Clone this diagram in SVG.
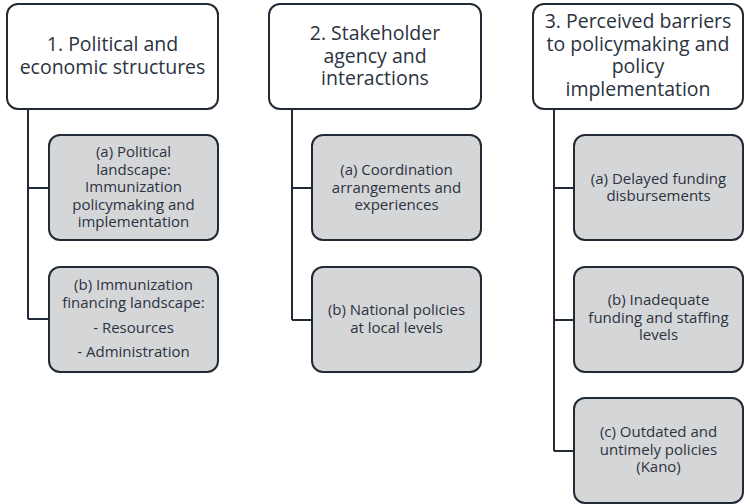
<svg xmlns="http://www.w3.org/2000/svg" width="750" height="504" viewBox="0 0 750 504">
<style>
.hdr{fill:#ffffff;stroke:#222a35;stroke-width:2}
.sub{fill:#d5d6d8;stroke:#222a35;stroke-width:2}
.conn{fill:none;stroke:#222a35;stroke-width:2}
text{font-family:"Open Sans","Noto Sans",sans-serif;fill:#2b3340;text-anchor:middle}
.ht{font-size:19.5px}
.st{font-size:15px}
</style>
<rect width="750" height="504" fill="#ffffff"/>
<g id="connectors">
<path class="conn" d="M28,109 V319 M28,188 H49 M28,319 H49"/>
<path class="conn" d="M292,109 V320 M292,188 H312 M292,320 H312"/>
<path class="conn" d="M554,109 V451 M554,188 H574 M554,320 H574 M554,451 H574"/>
</g>
<g id="n1">
<rect class="hdr" x="7" y="4" width="211" height="105" rx="11"/>
<text class="ht" x="112.5" y="51">1. Political and</text>
<text class="ht" x="112.5" y="74">economic structures</text>
</g>
<g id="n1a">
<rect class="sub" x="49" y="135" width="169" height="105" rx="11"/>
<text class="st" x="133.5" y="157">(a) Political</text>
<text class="st" x="133.5" y="174.5">landscape:</text>
<text class="st" x="133.5" y="192">Immunization</text>
<text class="st" x="133.5" y="209.5">policymaking and</text>
<text class="st" x="133.5" y="227">implementation</text>
</g>
<g id="n1b">
<rect class="sub" x="49" y="267" width="169" height="105" rx="11"/>
<text class="st" x="133.5" y="290">(b) Immunization</text>
<text class="st" x="133.5" y="308">financing landscape:</text>
<text class="st" x="133.5" y="333">- Resources</text>
<text class="st" x="133.5" y="357">- Administration</text>
</g>
<g id="n2">
<rect class="hdr" x="269" y="4" width="212" height="105" rx="11"/>
<text class="ht" x="375" y="40">2. Stakeholder</text>
<text class="ht" x="375" y="62.5">agency and</text>
<text class="ht" x="375" y="85">interactions</text>
</g>
<g id="n2a">
<rect class="sub" x="312" y="135" width="169" height="105" rx="11"/>
<text class="st" x="396.5" y="175">(a) Coordination</text>
<text class="st" x="396.5" y="192.5">arrangements and</text>
<text class="st" x="396.5" y="210">experiences</text>
</g>
<g id="n2b">
<rect class="sub" x="312" y="267" width="169" height="105" rx="11"/>
<text class="st" x="396.5" y="315">(b) National policies</text>
<text class="st" x="396.5" y="332.5">at local levels</text>
</g>
<g id="n3">
<rect class="hdr" x="533" y="4" width="210" height="105" rx="11"/>
<text class="ht" x="638" y="28">3. Perceived barriers</text>
<text class="ht" x="638" y="50.5">to policymaking and</text>
<text class="ht" x="638" y="73">policy</text>
<text class="ht" x="638" y="95.5">implementation</text>
</g>
<g id="n3a">
<rect class="sub" x="574" y="135" width="169" height="105" rx="11"/>
<text class="st" x="658.5" y="184">(a) Delayed funding</text>
<text class="st" x="658.5" y="201">disbursements</text>
</g>
<g id="n3b">
<rect class="sub" x="574" y="267" width="169" height="105" rx="11"/>
<text class="st" x="658.5" y="305">(b) Inadequate</text>
<text class="st" x="658.5" y="322.5">funding and staffing</text>
<text class="st" x="658.5" y="340">levels</text>
</g>
<g id="n3c">
<rect class="sub" x="574" y="398" width="169" height="105" rx="11"/>
<text class="st" x="658.5" y="437">(c) Outdated and</text>
<text class="st" x="658.5" y="454.5">untimely policies</text>
<text class="st" x="658.5" y="472">(Kano)</text>
</g>
</svg>
